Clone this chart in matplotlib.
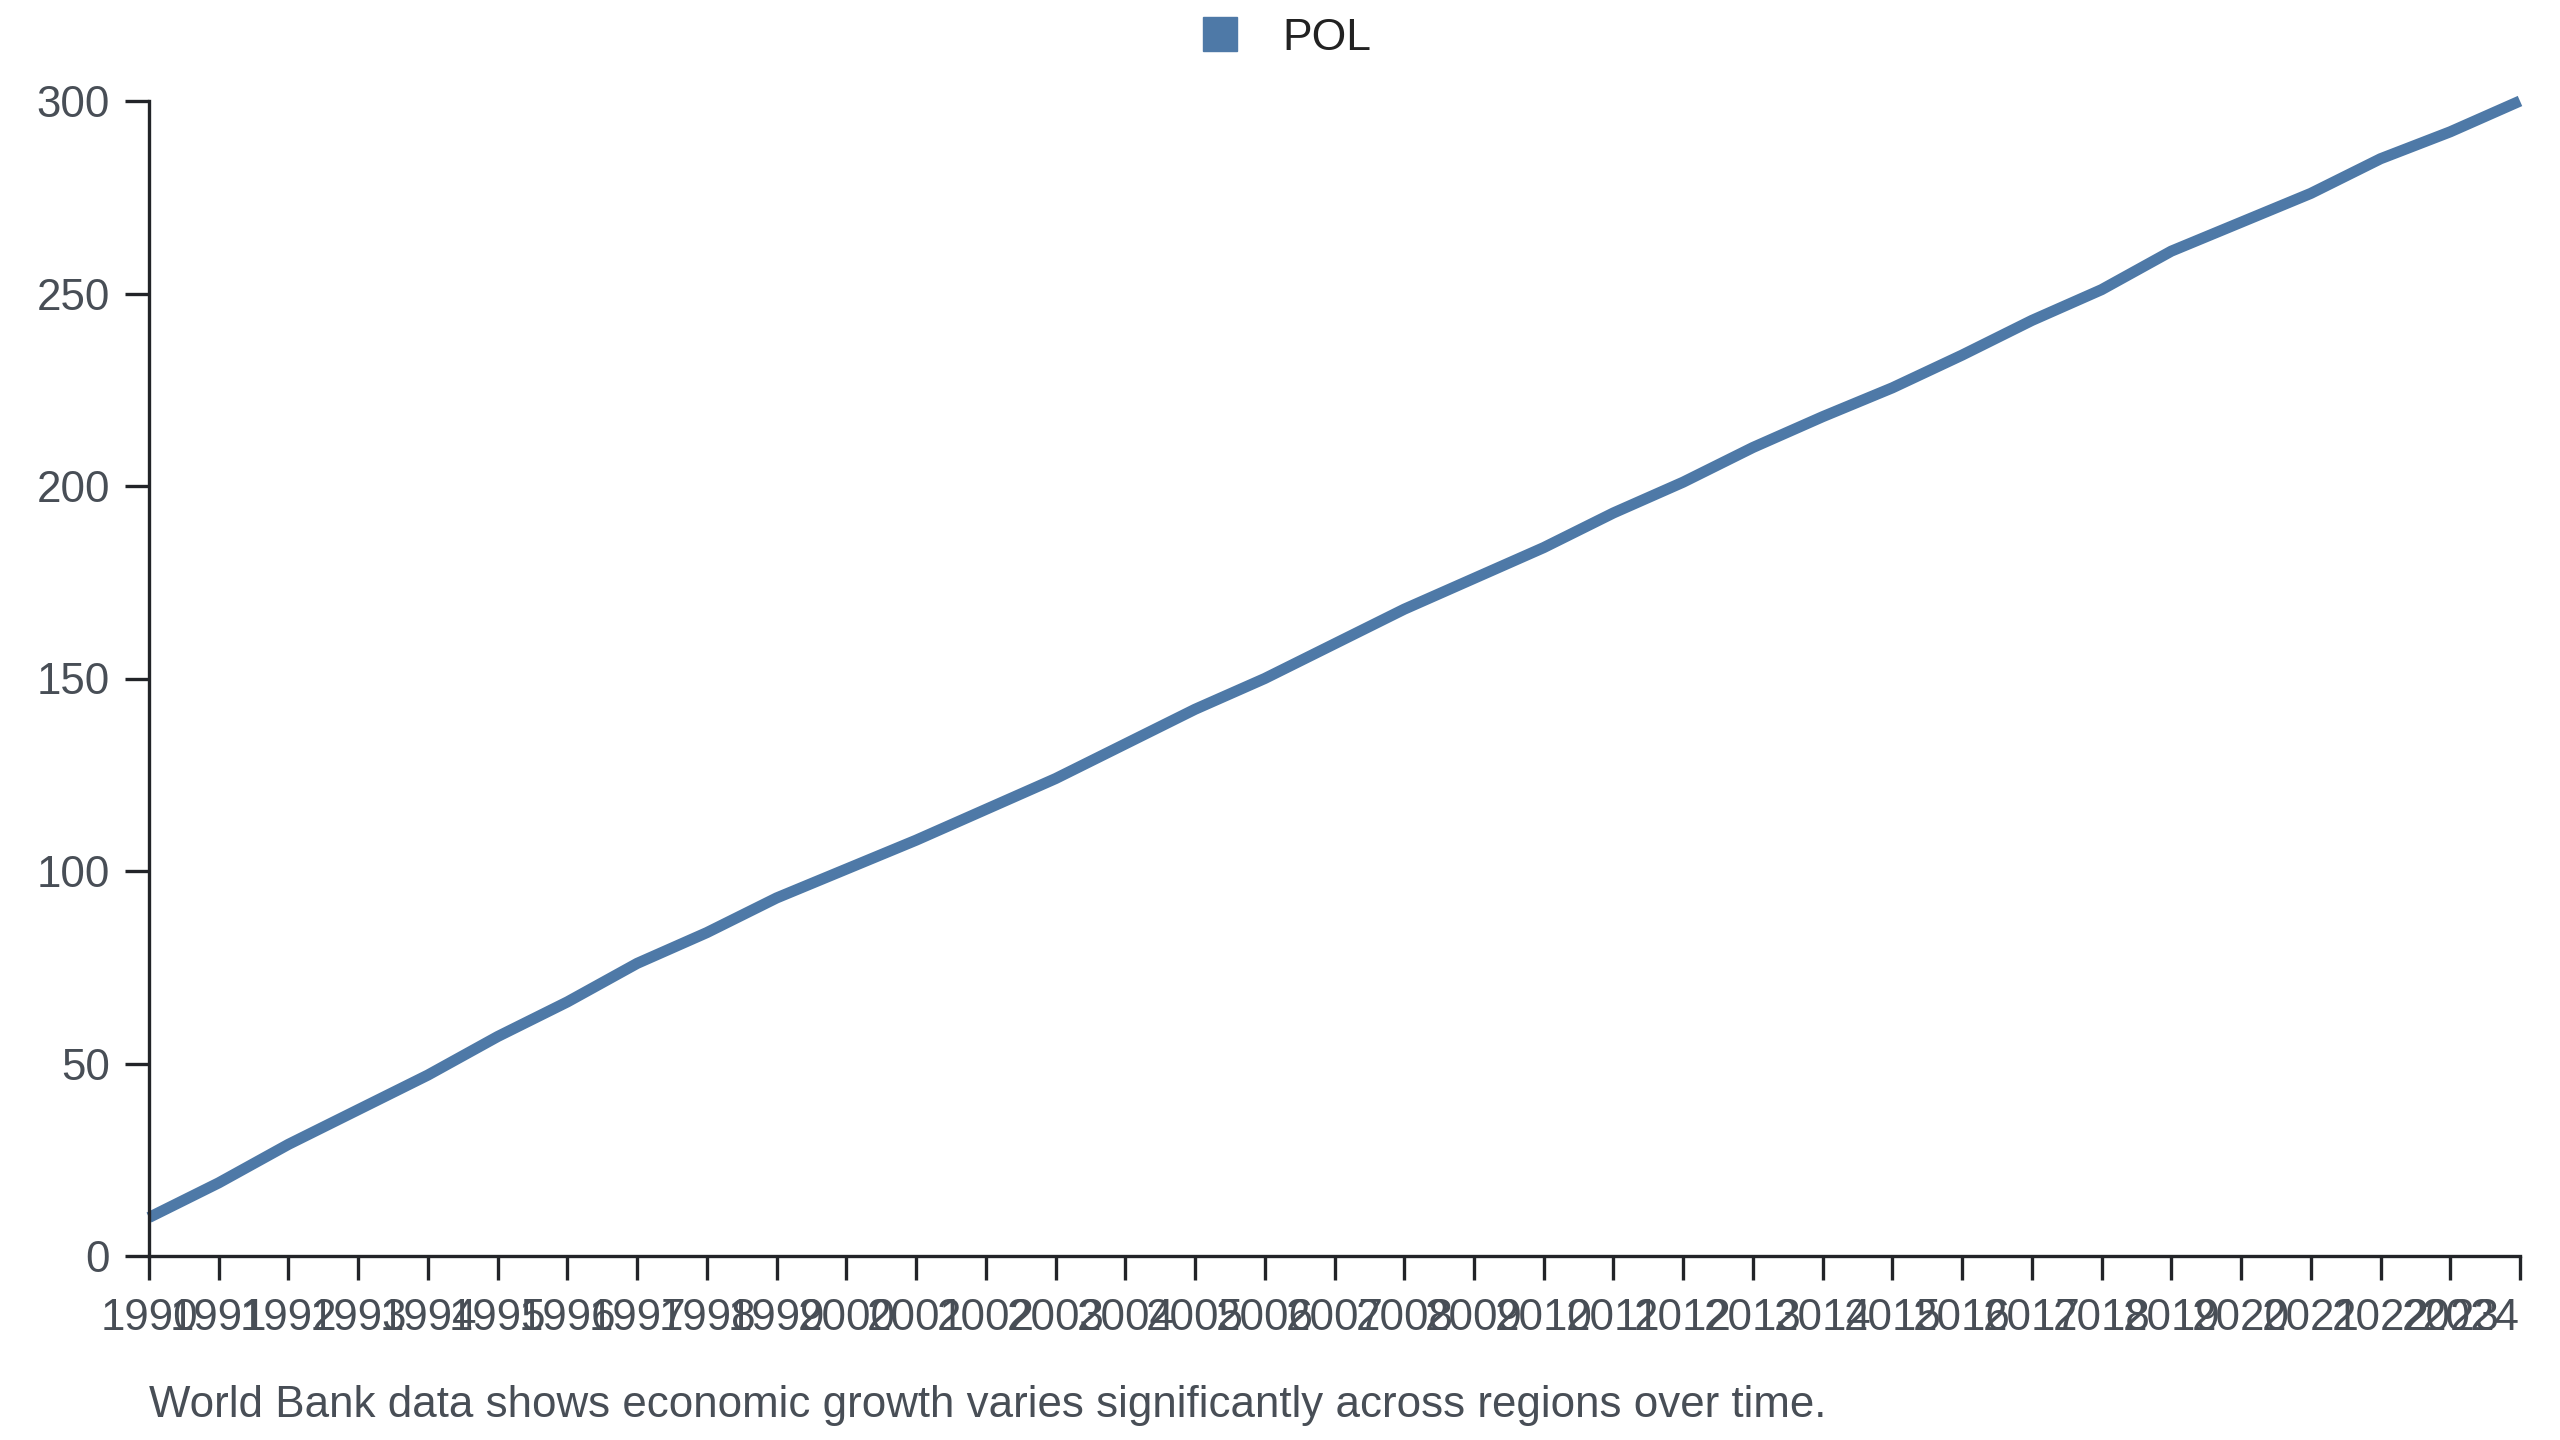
import matplotlib
matplotlib.use("Agg")
import matplotlib.pyplot as plt
from matplotlib.lines import Line2D

years = list(range(1990, 2025))
pol_values = [10, 19, 29, 38, 47, 57, 66, 76, 84, 93,
              100.5, 108, 116, 124, 133, 142, 150, 159, 168, 176,
              184, 193, 201, 210, 218, 225.5, 234, 243, 251, 261,
              268.5, 276, 285, 292, 300]
series_name = "POL"
y_ticks = [0, 50, 100, 150, 200, 250, 300]
caption = "World Bank data shows economic growth varies significantly across regions over time."

line_color = "#4e79a7"
text_gray = "#484e56"
axis_color = "#222428"

plt.rcParams['font.family'] = ['Liberation Sans', 'DejaVu Sans']

fig = plt.figure(figsize=(25.6, 14.4), dpi=100)
ax = fig.add_axes([149/2560, 1 - 1256/1440, (2520 - 149)/2560, (1256 - 101)/1440])

ax.plot(years, pol_values, color=line_color, linewidth=8,
        solid_capstyle='butt', solid_joinstyle='miter', clip_on=False)

ax.set_xlim(1990, 2024)
ax.set_ylim(0, 300)
ax.set_xticks(years)
ax.set_xticklabels([str(y) for y in years])
ax.set_yticks(y_ticks)
ax.set_yticklabels([str(v) for v in y_ticks])

for side in ['top', 'right']:
    ax.spines[side].set_visible(False)
for side in ['left', 'bottom']:
    ax.spines[side].set_color(axis_color)
    ax.spines[side].set_linewidth(2.4)

ax.tick_params(axis='both', which='major', length=17, width=2.4,
               color=axis_color, labelsize=31.6, labelcolor=text_gray)
ax.tick_params(axis='y', pad=11)
ax.tick_params(axis='x', pad=13)

# last x label is kept inside the canvas (right-aligned at its tick)
ax.get_xticklabels()[-1].set_horizontalalignment('right')

handle = Line2D([], [], marker='s', linestyle='none', markersize=25,
                markerfacecolor=line_color, markeredgecolor=line_color)
fig.legend([handle], [series_name], loc='center', bbox_to_anchor=(0.5025, 1 - 38/1440),
           frameon=False, fontsize=32, handletextpad=1.0, handlelength=0.8,
           labelcolor="#222222")

fig.text(149/2560, 1 - 1405/1440, caption, fontsize=31.6, color=text_gray,
         ha='left', va='center')

fig.savefig("out.png", dpi=100)
